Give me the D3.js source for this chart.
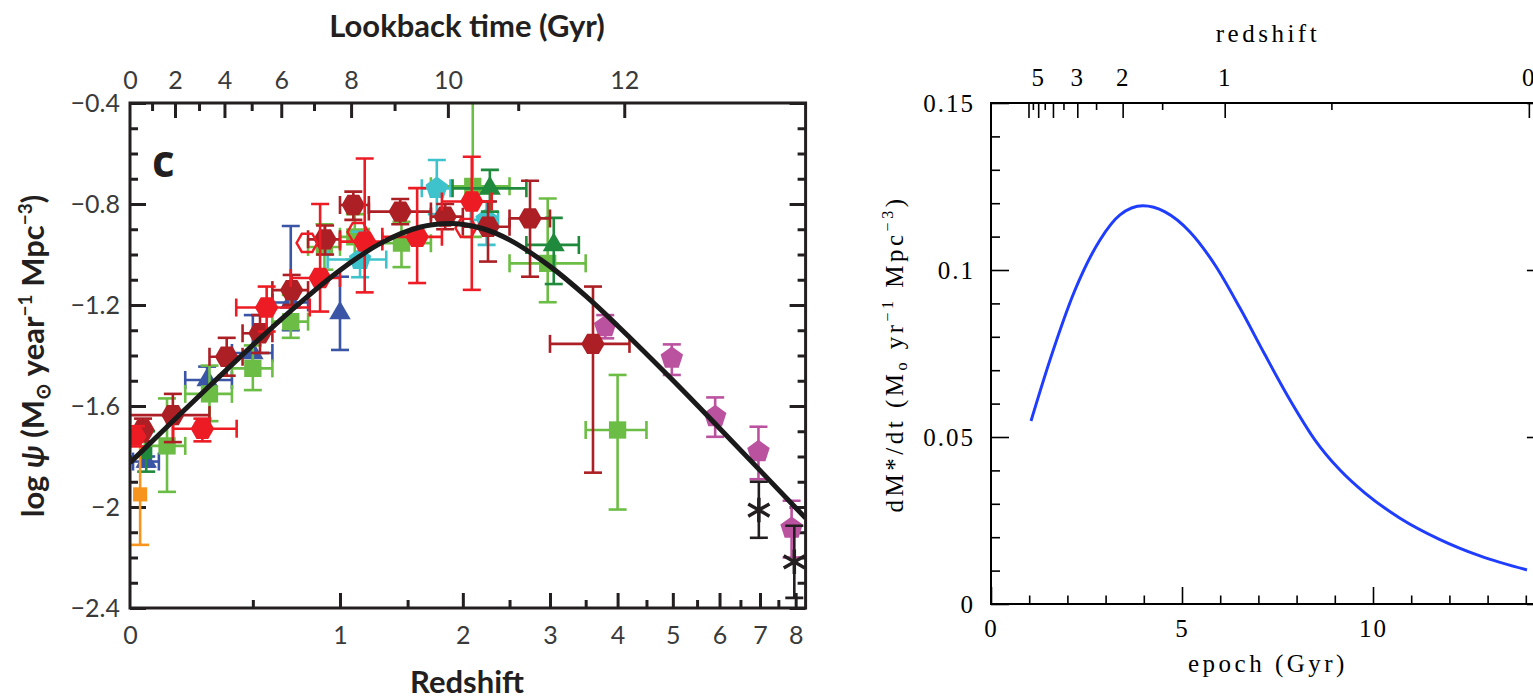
<!DOCTYPE html>
<html><head><meta charset="utf-8">
<script src="https://cdn.jsdelivr.net/npm/d3@7"></script>
<style>body{margin:0;background:#fff}svg{display:block}</style>
</head><body>
<svg id="c" width="1533" height="699"></svg>
<script>
// ================= DATA (left panel) =================
// rows: [z, logPsi, zLo, zHi, logPsiLo, logPsiHi]  (null = no bar)
const takeuchiOrange = [[0.034,-1.95,null,null,-2.15,-1.72]];
const sandersRed = [[0.02,-1.72,null,null,-1.76,-1.68]];
const wyderBlue = [[0.055,-1.82,0.01,0.1,-1.84,-1.80]];
const schiminovichBlue = [
  [0.29,-1.497,0.2,0.4,-1.56,-1.444],
  [0.5,-1.39,0.4,0.6,-1.45,-1.24],
  [0.7,-1.19,0.6,0.8,-1.30,-0.887],
  [1.0,-1.232,null,null,-1.378,-1.088]];
const robothamDarkGreen = [[0.055,-1.786,null,null,-1.86,-1.70]];
const cucciatiGreen = [
  [0.13,-1.758,0.05,0.2,-1.94,-1.57],
  [0.30,-1.552,0.2,0.4,-1.66,-1.44],
  [0.50,-1.451,0.4,0.6,-1.537,-1.36],
  [0.70,-1.266,0.6,0.8,-1.33,-1.16],
  [0.90,-0.97,0.8,1.0,-1.06,-0.88],
  [1.10,-0.93,1.0,1.2,-1.02,-0.84],
  [1.45,-0.955,1.2,1.7,-1.05,-0.87],
  [2.10,-0.73,1.7,2.5,-0.93,-0.3],
  [2.97,-1.035,2.5,3.5,-1.189,-0.778],
  [4.0,-1.695,3.5,4.5,-2.01,-1.477]];
const dahlenCyan = [
  [1.137,-1.02,0.92,1.33,-1.09,-0.91],
  [1.753,-0.738,1.62,1.88,-0.84,-0.626],
  [2.245,-0.863,2.08,2.37,-0.962,-0.79]];
const reddyDarkGreen = [
  [2.28,-0.738,1.9,2.7,-0.83,-0.665],
  [3.05,-0.962,2.7,3.4,-1.117,-0.855]];
const bouwensMagenta = [
  [3.8,-1.286,null,null,-1.332,-1.24],
  [4.98,-1.411,null,null,-1.477,-1.356],
  [5.9,-1.642,null,null,-1.722,-1.566],
  [6.96,-1.781,null,null,-1.89,-1.682],
  [7.88,-2.084,null,null,-2.2,-1.975]];
const schenkerBlack = [
  [6.97,-2.012,null,null,-2.122,-1.9],
  [7.96,-2.217,null,null,-2.36,-2.074]];
const gruppioniDarkRed = [
  [0.044,-1.695,null,null,-1.74,-1.65],
  [0.152,-1.636,0.0,0.3,-1.743,-1.552],
  [0.376,-1.405,0.3,0.45,-1.48,-1.33],
  [0.536,-1.312,0.45,0.6,-1.39,-1.24],
  [0.705,-1.141,0.6,0.8,-1.20,-1.081],
  [0.904,-0.94,0.8,1.0,-1.00,-0.885],
  [1.09,-0.804,1.0,1.2,-0.863,-0.751],
  [1.44,-0.83,1.2,1.7,-0.88,-0.78],
  [1.83,-0.85,1.7,2.0,-0.90,-0.80],
  [2.26,-0.89,2.0,2.5,-1.028,-0.79],
  [2.745,-0.857,2.5,3.0,-1.088,-0.708],
  [3.61,-1.354,3.0,4.2,-1.864,-1.127]];
const magnelliRed = [
  [0.27,-1.69,0.153,0.422,-1.74,-1.65],
  [0.57,-1.21,0.42,0.81,-1.305,-1.127],
  [0.873,-1.093,0.7,1.0,-1.226,-0.80],
  [1.17,-0.949,1.0,1.3,-1.15,-0.62],
  [1.58,-0.93,1.3,1.8,-1.113,-0.737],
  [2.09,-0.79,1.8,2.3,-1.14,-0.613]];
const magnelliOpenRed = [
  [0.794,-0.954,null,null,null,null],
  [1.122,-0.911,null,null,null,null],
  [2.031,-0.895,null,null,null,null]];
// best-fit curve
const fitZ      = [0,0.1,0.2,0.3,0.5,0.7,1,1.3,1.6,1.9,2.2,2.5,3,3.5,4,5,6,7,8,8.3];
const fitLogPsi = [-1.825,-1.714,-1.613,-1.521,-1.359,-1.223,-1.062,-0.952,-0.892,-0.877,-0.897,-0.942,-1.047,-1.164,-1.282,-1.498,-1.688,-1.855,-2.003,-2.044];
// axes
const zMajorTicks = [1,2,3,4,5,6,7,8];
const zMinorTicks = [0.5,1.5,2.5,3.5,4.5,5.5,6.5,7.5];
const zLabels = [0,1,2,3,4,5,6,7,8];
const lookbackMajor = [2,4,6,8,10,12];
const lookbackMinor = [1,3,5,7,9,11];
const lookbackLabels = [0,2,4,6,8,10,12];
const psiMajor = [-2.4,-2.0,-1.6,-1.2,-0.8,-0.4];
const psiMinor = [-2.3,-2.2,-2.1,-1.9,-1.8,-1.7,-1.5,-1.4,-1.3,-1.1,-1.0,-0.9,-0.7,-0.6,-0.5];

// ================= DATA (right panel) =================
const epochGyr   = [1.047,1.545,2.199,2.853,3.377,3.979,4.555,5.209,5.864,6.518,7.173,7.827,8.482,9.136,9.791,10.707,11.754,12.801,14.031];
const sfrDensity = [0.0548,0.0731,0.0940,0.1090,0.1165,0.1192,0.1174,0.1114,0.1015,0.0886,0.0746,0.0611,0.0491,0.0401,0.0332,0.0257,0.0193,0.0144,0.0102];
const epochMajor = [0,5,10];
const epochMinor = [1,2,3,4,6,7,8,9,11,12,13,14];
const sfrMajor = [0,0.05,0.1,0.15];
const sfrMinor = [0.01,0.02,0.03,0.04,0.06,0.07,0.08,0.09,0.11,0.12,0.13,0.14];
const redshiftMajor = [6,5,4,3,2,1,0];
const redshiftMinor = [5.5,4.5,3.5,2.5,1.5,0.5];
const redshiftLabels = [5,3,2,1,0];

// ================= helpers =================
function lookback(z){ // Gyr, flat LCDM H0=70 Om=0.3
  const n=200,h=z/n; let s=0;
  const f=x=>1/((1+x)*Math.sqrt(0.3*Math.pow(1+x,3)+0.7));
  for(let i=0;i<=n;i++){const w=(i===0||i===n)?1:(i%2?4:2); s+=w*f(i*h);}
  return 977.8/70*s*h/3;
}
function zAtLookback(t){let lo=0,hi=30;for(let k=0;k<60;k++){const m=(lo+hi)/2; if(lookback(m)<t) lo=m; else hi=m;} return (lo+hi)/2;}
const kOL = Math.sqrt(0.73/0.27), T0 = 14.08;
function ageAt(z){ return T0*Math.asinh(kOL*Math.pow(1+z,-1.5))/Math.asinh(kOL); }

const svg = d3.select('#c');
const fontL = "Lato, 'Open Sans', sans-serif";
const fontR = "'Liberation Serif', 'DejaVu Serif', serif";
const ink = '#231f20';

// ================= LEFT PANEL =================
const L = {x0:130, x1:805.6, y0:103, y1:608};
const xL = d3.scaleLog().domain([1,9.3]).range([L.x0,L.x1]);
const yL = d3.scaleLinear().domain([-2.4,-0.4]).range([L.y1,L.y0]);

function tickLines(g, axis, vals, len, sw, col){
  g.call(axis.tickValues(vals).tickSize(len).tickFormat(''));
  g.select('.domain').remove();
  g.selectAll('line').attr('stroke',col).attr('stroke-width',sw);
  g.selectAll('text').remove();
}
function tickLabels(g, axis, vals, pad, fmt, font, size, col, extra){
  g.call(axis.tickValues(vals).tickSize(0).tickPadding(pad).tickFormat(fmt));
  g.select('.domain').remove();
  g.selectAll('line').remove();
  g.attr('font-family',font).attr('font-size',size).attr('color',col);
  if(extra) g.selectAll('text').attr('letter-spacing',extra);
}

// bottom
const gLB = svg.append('g').attr('transform',`translate(0,${L.y1})`);
tickLines(gLB.append('g'), d3.axisBottom(xL), zMajorTicks.map(z=>1+z), -15, 3, ink);
tickLines(gLB.append('g'), d3.axisBottom(xL), zMinorTicks.map(z=>1+z), -8, 3, ink);
tickLabels(gLB.append('g'), d3.axisBottom(xL), zLabels.map(z=>1+z), 18, (d,i)=>String(zLabels[i]), fontL, 25, '#3a3a3a');
// top (lookback)
const gLT = svg.append('g').attr('transform',`translate(0,${L.y0})`);
tickLines(gLT.append('g'), d3.axisTop(xL), lookbackMajor.map(t=>1+zAtLookback(t)), -15, 3, ink);
tickLines(gLT.append('g'), d3.axisTop(xL), lookbackMinor.map(t=>1+zAtLookback(t)), -8, 3, ink);
tickLabels(gLT.append('g'), d3.axisTop(xL), lookbackLabels.map(t=>1+zAtLookback(t)), 14, (d,i)=>String(lookbackLabels[i]), fontL, 25, '#3a3a3a');
// left
const gLL = svg.append('g').attr('transform',`translate(${L.x0},0)`);
tickLines(gLL.append('g'), d3.axisLeft(yL), psiMajor, -16, 3, ink);
tickLines(gLL.append('g'), d3.axisLeft(yL), psiMinor, -8, 3, ink);
tickLabels(gLL.append('g'), d3.axisLeft(yL), psiMajor, 10, d3.format('.1~f'), fontL, 25, '#3a3a3a');
// right
const gLR = svg.append('g').attr('transform',`translate(${L.x1},0)`);
tickLines(gLR.append('g'), d3.axisRight(yL), psiMajor, -16, 3, ink);
tickLines(gLR.append('g'), d3.axisRight(yL), psiMinor, -8, 3, ink);

// clip
svg.append('clipPath').attr('id','clipL').append('rect')
  .attr('x',L.x0).attr('y',L.y0).attr('width',L.x1-L.x0).attr('height',L.y1-L.y0);
const plotL = svg.append('g').attr('clip-path','url(#clipL)');

// custom symbols
const symHex = {draw(ctx,size){const r=Math.sqrt(size);for(let i=0;i<6;i++){const a=Math.PI/3*i;const x=r*Math.cos(a),y=r*Math.sin(a);i?ctx.lineTo(x,y):ctx.moveTo(x,y);}ctx.closePath();}};
const symPent = {draw(ctx,size){const r=Math.sqrt(size);for(let i=0;i<5;i++){const a=-Math.PI/2+2*Math.PI*i/5;const x=r*Math.cos(a),y=r*Math.sin(a);i?ctx.lineTo(x,y):ctx.moveTo(x,y);}ctx.closePath();}};
const symAst = {draw(ctx,size){const r=Math.sqrt(size);[90,30,150].forEach(d=>{const a=d*Math.PI/180;ctx.moveTo(r*Math.cos(a),r*Math.sin(a));ctx.lineTo(-r*Math.cos(a),-r*Math.sin(a));});}};

const seriesTable = [
  {data:schiminovichBlue, color:'#3a55a5', type:d3.symbolTriangle, size:200},
  {data:wyderBlue, color:'#3a55a5', type:d3.symbolTriangle, size:200},
  {data:cucciatiGreen, color:'#6cbd45', type:d3.symbolSquare, size:300},
  {data:dahlenCyan, color:'#3ec3cd', type:symPent, size:140},
  {data:robothamDarkGreen, color:'#1f8a3c', type:d3.symbolSquare, size:150},
  {data:reddyDarkGreen, color:'#1f8a3c', type:d3.symbolTriangle, size:210},
  {data:takeuchiOrange, color:'#f7941d', type:d3.symbolSquare, size:200},
  {data:bouwensMagenta, color:'#bb52a0', type:symPent, size:140},
  {data:schenkerBlack, color:ink, type:symAst, size:150, stroke:true},
  {data:gruppioniDarkRed, color:'#ac1f24', type:symHex, size:138},
  {data:sandersRed, color:'#ed1c24', type:symHex, size:110},
  {data:magnelliRed, color:'#ed1c24', type:symHex, size:138},
  {data:magnelliOpenRed, color:'#ed1c24', type:symHex, size:110, open:true}
];
const cap = 9;
seriesTable.forEach(s=>{
  const g = plotL.append('g').attr('stroke',s.color).attr('stroke-width',2.6).attr('fill','none');
  s.data.forEach(r=>{
    const [z,v,zlo,zhi,vlo,vhi]=r;
    const cx=xL(1+z), cy=yL(v);
    if(vlo!==null){
      const ya=yL(vlo), yb=yL(vhi);
      g.append('line').attr('x1',cx).attr('x2',cx).attr('y1',ya).attr('y2',yb);
      g.append('line').attr('x1',cx-cap).attr('x2',cx+cap).attr('y1',ya).attr('y2',ya);
      g.append('line').attr('x1',cx-cap).attr('x2',cx+cap).attr('y1',yb).attr('y2',yb);
    }
    if(zlo!==null){
      const xa=xL(1+zlo), xb=xL(1+zhi);
      g.append('line').attr('x1',xa).attr('x2',xb).attr('y1',cy).attr('y2',cy);
      g.append('line').attr('x1',xa).attr('x2',xa).attr('y1',cy-cap).attr('y2',cy+cap);
      g.append('line').attr('x1',xb).attr('x2',xb).attr('y1',cy-cap).attr('y2',cy+cap);
    }
  });
  const m = plotL.append('g');
  m.selectAll('path').data(s.data).join('path')
    .attr('transform',r=>`translate(${xL(1+r[0])},${yL(r[1])})`)
    .attr('d',d3.symbol().type(s.type).size(s.size))
    .attr('fill',(s.stroke||s.open)?'none':s.color)
    .attr('stroke',(s.stroke||s.open)?s.color:'none')
    .attr('stroke-width',s.stroke?3.5:2.4);
});
// fit curve
plotL.append('path')
  .datum(fitZ.map((z,i)=>[z,fitLogPsi[i]]))
  .attr('d',d3.line().x(d=>xL(1+d[0])).y(d=>yL(d[1])).curve(d3.curveCatmullRom))
  .attr('fill','none').attr('stroke','#1a1a1a').attr('stroke-width',5);

// frame
svg.append('rect').attr('x',L.x0).attr('y',L.y0).attr('width',L.x1-L.x0).attr('height',L.y1-L.y0)
  .attr('fill','none').attr('stroke',ink).attr('stroke-width',3);

// panel letter
svg.append('text').attr('x',152).attr('y',177).text('c')
  .attr('font-family',"'Open Sans', Lato, sans-serif").attr('font-weight','bold').attr('font-size',44).attr('fill',ink);
// titles
svg.append('text').attr('x',467).attr('y',37).attr('text-anchor','middle')
  .attr('font-family',fontL).attr('font-weight','bold').attr('font-size',31).attr('fill',ink)
  .text('Lookback time (Gyr)');
svg.append('text').attr('x',467).attr('y',693).attr('text-anchor','middle')
  .attr('font-family',fontL).attr('font-weight','bold').attr('font-size',31).attr('fill',ink)
  .text('Redshift');
const yt = svg.append('text').attr('transform','translate(44,356) rotate(-90)').attr('text-anchor','middle')
  .attr('font-family',fontL).attr('font-weight','bold').attr('font-size',31).attr('fill',ink);
yt.append('tspan').text('log ');
yt.append('tspan').attr('font-style','italic').text('ψ');
yt.append('tspan').text(' (M');
yt.append('tspan').attr('font-size',20).attr('dy',6).text('⊙');
yt.append('tspan').attr('dy',-6).text(' year');
yt.append('tspan').attr('font-size',19).attr('dy',-12).text('−1');
yt.append('tspan').attr('dy',12).text(' Mpc');
yt.append('tspan').attr('font-size',19).attr('dy',-12).text('−3');
yt.append('tspan').attr('dy',12).text(')');

// ================= RIGHT PANEL =================
const R = {x0:991, x1:991+14.5*38.2, y0:103, y1:604};
const xR = d3.scaleLinear().domain([0,14.5]).range([R.x0,R.x1]);
const yR = d3.scaleLinear().domain([0,0.15]).range([R.y1,R.y0]);
const rc = '#000';
const gRB = svg.append('g').attr('transform',`translate(0,${R.y1})`);
tickLines(gRB.append('g'), d3.axisBottom(xR), epochMajor, -17, 1.6, rc);
tickLines(gRB.append('g'), d3.axisBottom(xR), epochMinor, -8.5, 1.6, rc);
tickLabels(gRB.append('g'), d3.axisBottom(xR), epochMajor, 15, d3.format('d'), fontR, 25, rc, 2);
const gRL = svg.append('g').attr('transform',`translate(${R.x0},0)`);
tickLines(gRL.append('g'), d3.axisLeft(yR), sfrMajor, -18, 1.6, rc);
tickLines(gRL.append('g'), d3.axisLeft(yR), sfrMinor, -9, 1.6, rc);
tickLabels(gRL.append('g'), d3.axisLeft(yR), sfrMajor, 16, d3.format('~g'), fontR, 25, rc, 2);
const gRR = svg.append('g').attr('transform',`translate(${R.x1},0)`);
tickLines(gRR.append('g'), d3.axisRight(yR), sfrMajor, -18, 1.6, rc);
tickLines(gRR.append('g'), d3.axisRight(yR), sfrMinor, -9, 1.6, rc);
const gRT = svg.append('g').attr('transform',`translate(0,${R.y0})`);
tickLines(gRT.append('g'), d3.axisTop(xR), redshiftMajor.map(ageAt), -15, 1.6, rc);
tickLines(gRT.append('g'), d3.axisTop(xR), redshiftMinor.map(ageAt), -7, 1.6, rc);
tickLabels(gRT.append('g'), d3.axisTop(xR), redshiftLabels.map(ageAt), 17, (d,i)=>String(redshiftLabels[i]), fontR, 25, rc, 2);

svg.append('path')
  .datum(epochGyr.map((t,i)=>[t,sfrDensity[i]]))
  .attr('d',d3.line().x(d=>xR(d[0])).y(d=>yR(d[1])).curve(d3.curveMonotoneX))
  .attr('fill','none').attr('stroke','#1f3dff').attr('stroke-width',3);

svg.append('rect').attr('x',R.x0).attr('y',R.y0).attr('width',R.x1-R.x0).attr('height',R.y1-R.y0)
  .attr('fill','none').attr('stroke',rc).attr('stroke-width',2);

svg.append('text').attr('x',(R.x0+R.x1)/2).attr('y',42).attr('text-anchor','middle')
  .attr('font-family',fontR).attr('font-size',25).attr('letter-spacing',3.5).text('redshift');
svg.append('text').attr('x',(R.x0+R.x1)/2).attr('y',672).attr('text-anchor','middle')
  .attr('font-family',fontR).attr('font-size',25).attr('letter-spacing',3.5).text('epoch (Gyr)');
const yr = svg.append('text').attr('transform','translate(903,354) rotate(-90)').attr('text-anchor','middle')
  .attr('font-family',fontR).attr('font-size',25).attr('letter-spacing',3.5);
yr.append('tspan').text('dM*/dt (M');
yr.append('tspan').attr('font-size',16).attr('dy',4).text('o');
yr.append('tspan').attr('dy',-4).text(' yr');
yr.append('tspan').attr('font-size',16).attr('dy',-10).text('−1');
yr.append('tspan').attr('dy',10).text(' Mpc');
yr.append('tspan').attr('font-size',16).attr('dy',-10).text('−3');
yr.append('tspan').attr('dy',10).text(')');
</script>
</body></html>
